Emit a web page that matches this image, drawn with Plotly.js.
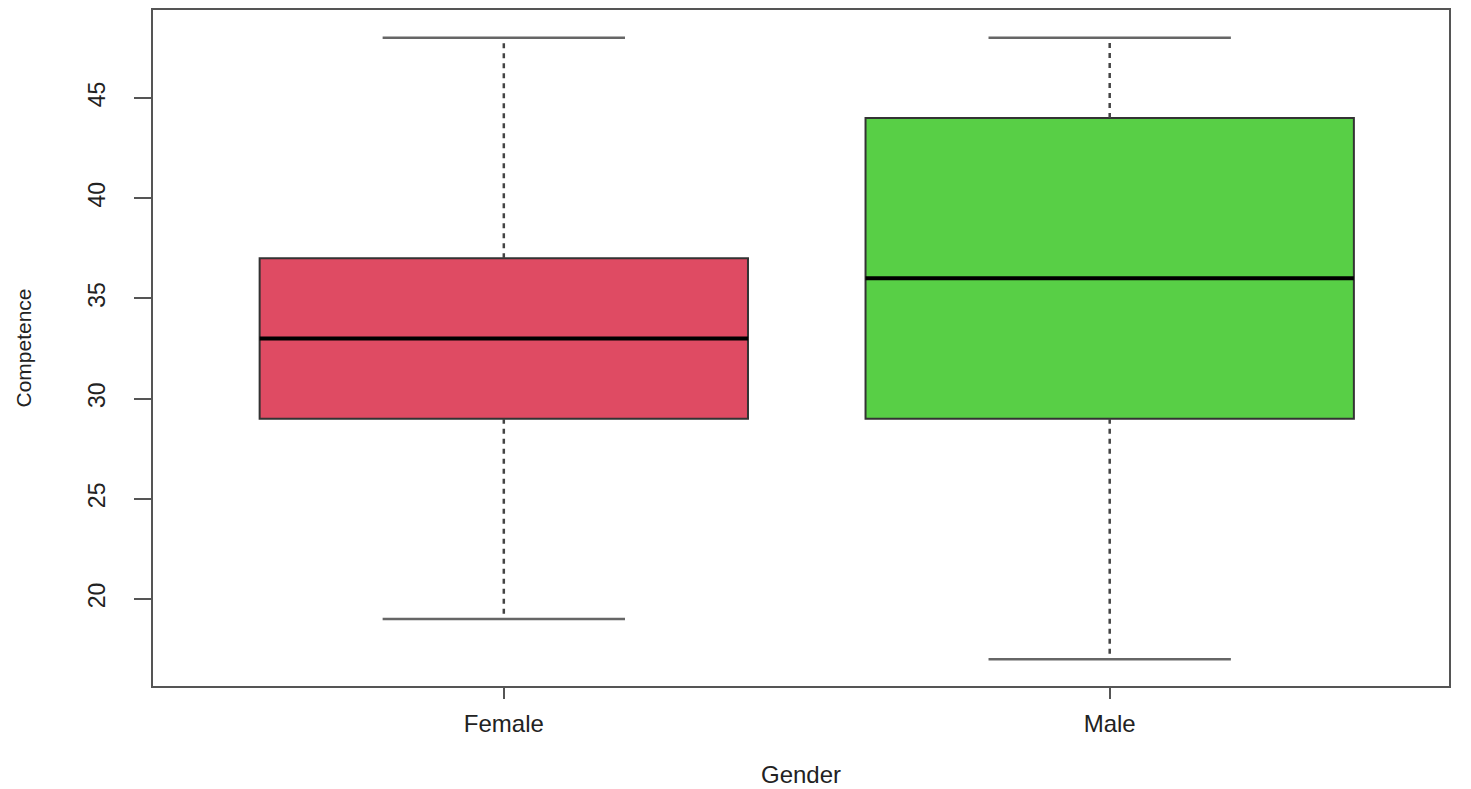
<!DOCTYPE html>
<html>
<head>
<meta charset="utf-8">
<script src="https://cdn.plot.ly/plotly-3.0.1.min.js"></script>
<style>html,body{margin:0;padding:0;background:#fff;}#chart{width:1471px;height:789px;}</style>
</head>
<body>
<div id="chart"></div>
<script>
// Data
const categories = ["Female", "Male"];
const positions = [1, 2];
const lowerWhisker = [19, 17];
const q1 = [29, 29];
const median = [33, 36];
const q3 = [37, 44];
const upperWhisker = [48, 48];
const fillColors = ["#DF4B63", "#58CF46"];
const yTicks = [20, 25, 30, 35, 40, 45];

const boxHalf = 0.403;
const capHalf = 0.2;
const traces = [];

positions.forEach((p, i) => {
  // whiskers (dashed)
  traces.push({
    type: "scatter", mode: "lines", hoverinfo: "skip", showlegend: false,
    x: [p, p, null, p, p],
    y: [q3[i], upperWhisker[i], null, q1[i], lowerWhisker[i]],
    line: {color: "#444", width: 2.5, dash: "5px,5px"}
  });
  // caps
  traces.push({
    type: "scatter", mode: "lines", hoverinfo: "skip", showlegend: false,
    x: [p - capHalf, p + capHalf, null, p - capHalf, p + capHalf],
    y: [upperWhisker[i], upperWhisker[i], null, lowerWhisker[i], lowerWhisker[i]],
    line: {color: "#666", width: 2.5}
  });
  // box
  traces.push({
    type: "box", name: categories[i], showlegend: false,
    x: [p], q1: [q1[i]], median: [median[i]], q3: [q3[i]],
    lowerfence: [q1[i]], upperfence: [q3[i]],
    width: boxHalf * 2, whiskerwidth: 0,
    fillcolor: fillColors[i],
    line: {color: "#333", width: 2}
  });
  // median (thick)
  traces.push({
    type: "scatter", mode: "lines", hoverinfo: "skip", showlegend: false,
    x: [p - boxHalf, p + boxHalf],
    y: [median[i], median[i]],
    line: {color: "#000", width: 4}
  });
});

const font = "Liberation Sans, Arial, sans-serif";
const layout = {
  width: 1471, height: 789,
  paper_bgcolor: "#fff", plot_bgcolor: "#fff",
  margin: {l: 153, r: 22, t: 10, b: 103},
  showlegend: false,
  xaxis: {
    range: [0.421, 2.56], tickvals: positions, ticktext: categories,
    showgrid: false, zeroline: false,
    showline: true, mirror: true, linecolor: "#555", linewidth: 2,
    ticks: "outside", ticklen: 11, tickwidth: 2, tickcolor: "#555",
    ticklabelstandoff: 4,
    tickfont: {family: font, size: 24, color: "#222"},
    title: {text: "Gender", font: {family: font, size: 24, color: "#222"}, standoff: 30}
  },
  yaxis: {
    range: [15.66, 49.39], tickvals: yTicks,
    showgrid: false, zeroline: false,
    showline: true, mirror: true, linecolor: "#555", linewidth: 2,
    ticks: "outside", ticklen: 17, tickwidth: 2, tickcolor: "#555",
    tickangle: -90, ticklabelstandoff: 20,
    tickfont: {family: font, size: 23, color: "#222"},
    title: {text: "Competence", font: {family: font, size: 21, color: "#222"}, standoff: 46}
  }
};

Plotly.newPlot("chart", traces, layout, {displayModeBar: false, staticPlot: true});
</script>
</body>
</html>
